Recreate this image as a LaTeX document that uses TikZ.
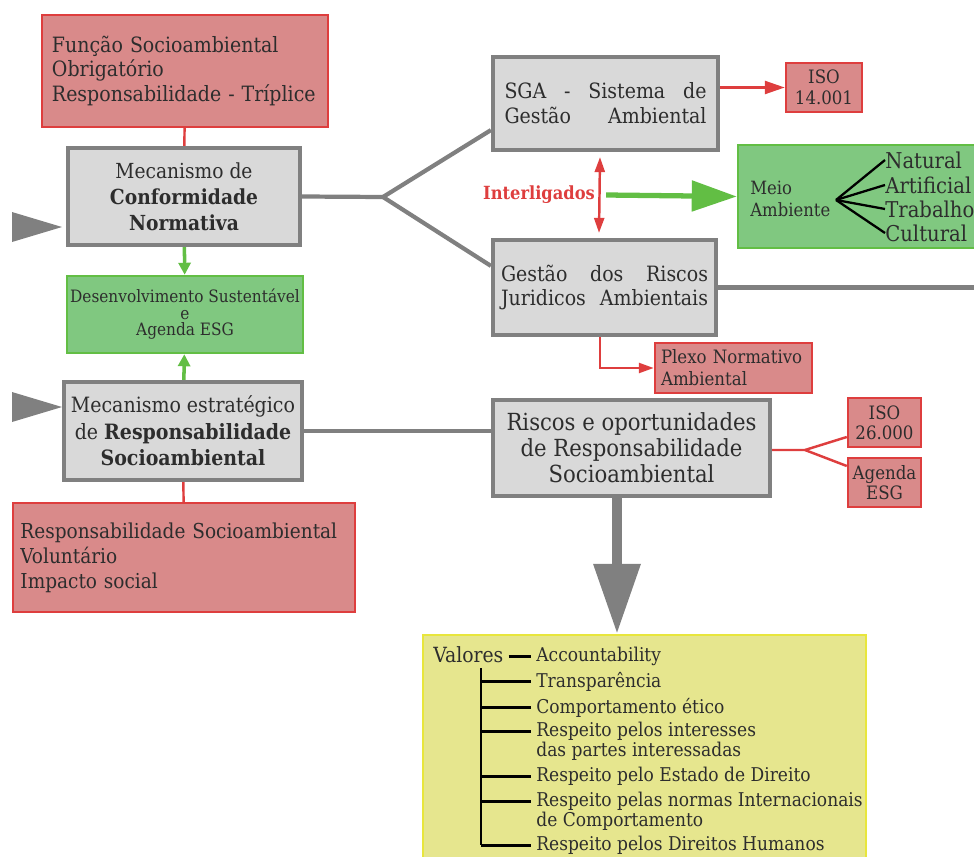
\documentclass[tikz,border=0pt]{standalone}
\usepackage{fontspec}
\setmainfont{DejaVu Serif Condensed}
\usetikzlibrary{arrows.meta}

\definecolor{redfill}{RGB}{217,138,138}
\definecolor{redline}{RGB}{222,62,62}
\definecolor{greyfill}{RGB}{217,217,217}
\definecolor{greyline}{RGB}{128,128,128}
\definecolor{greenfill}{RGB}{128,200,128}
\definecolor{greenline}{RGB}{98,190,68}
\definecolor{yellowfill}{RGB}{230,230,142}
\definecolor{yellowline}{RGB}{232,230,60}
\definecolor{ink}{RGB}{45,45,45}

\newcommand{\rowstrut}{\rule{0pt}{8pt}}

\tikzstyle{redbox}=[draw=redline, fill=redfill, line width=1.4pt, inner sep=0pt, text=ink]
\tikzstyle{greybox}=[draw=greyline, fill=greyfill, line width=2.4pt, inner sep=0pt, text=ink, align=center]
\tikzstyle{greenbox}=[draw=greenline, fill=greenfill, line width=1.4pt, inner sep=0pt, text=ink, align=center]
\tikzstyle{yellowbox}=[draw=yellowline, fill=yellowfill, line width=1.4pt]
\tikzstyle{redlink}=[draw=redline, line width=1.4pt]
\tikzstyle{redarrow}=[redlink, -{Triangle[length=4mm, width=2.6mm]}]
\tikzstyle{greylink}=[draw=greyline, line width=2.4pt]
\tikzstyle{greenarrow}=[draw=greenline, line width=2pt, -{Triangle[length=2.4mm, width=2.4mm]}]
\tikzstyle{branch}=[draw=black, line width=1.6pt]
\tikzstyle{item}=[anchor=north west, inner sep=0pt, align=left, text=ink,
  font=\fontsize{10.8}{11.2}\selectfont]

\begin{document}
\begin{tikzpicture}[x=0.2mm, y=-0.2mm]
\useasboundingbox (0,0) rectangle (974,857);
% left column
\draw (185,71) node[redbox, minimum width=57.2mm, minimum height=22.4mm, text width=53.2mm,
  align=left, font=\fontsize{12}{14.2}\selectfont](func)
  {Função Socioambiental\\Obrigatório\\Responsabilidade - Tríplice};
\draw (184,196.5) node[greybox, minimum width=46.4mm, minimum height=19.4mm,
  font=\fontsize{11.8}{14.8}\selectfont](conf)
  {Mecanismo de\\\textbf{Conformidade}\\\textbf{Normativa}};
\draw[redlink] (func) -- (conf);
%
\draw (185,314.5) node[greenbox, minimum width=47.2mm, minimum height=15.4mm,
  font=\fontsize{9.7}{9.4}\selectfont](desen)
  {Desenvolvimento Sustentável\\e\\Agenda ESG};
\draw (183,431) node[greybox, minimum width=47.6mm, minimum height=19.6mm,
  font=\fontsize{12}{15}\selectfont](estr)
  {Mecanismo estratégico\\de \textbf{Responsabilidade}\\\textbf{Socioambiental}};
\draw[greenarrow] (conf) -- (desen); \draw[greenarrow] (estr) -- (desen);
%
\draw (184,557.5) node[redbox, minimum width=68.4mm, minimum height=21.8mm, text width=65.4mm,
  align=left, font=\fontsize{11.7}{14.2}\selectfont](volun)
  {Responsabilidade Socioambiental\\Voluntário\\Impacto social};
\draw[redlink] (estr) -- (volun);
\fill[greyline] (12,212) -- (62,227) -- (12,242) -- cycle; % entry
\fill[greyline] (12,392) -- (62,407) -- (12,422) -- cycle;
%
% middle column
\coordinate (fork) at (383,197);
\draw (605.5,103.5) node[greybox, minimum width=45mm, minimum height=18.6mm, text width=40.4mm,
  align=left, font=\fontsize{12}{14.2}\selectfont](sga)
  {SGA\hfill-\hfill Sistema\hfill de\\Gestão\hfill Ambiental};
\draw (604.5,287.5) node[greybox, minimum width=44.6mm, minimum height=19mm, text width=41.4mm,
  align=left, font=\fontsize{12}{14.2}\selectfont](gest)
  {Gestão\hfill dos\hfill Riscos\\Juridicos\hfill Ambientais};
\draw[greylink] (conf.east) -- (fork);
\draw[greylink] (fork) -- ([yshift=4.4mm]sga.south west);
\draw[greylink] (fork) -- ([yshift=-5.6mm]gest.north west);
\draw[greylink] (gest.east) -- ++(60mm,0);
%
\draw (824,87.5) node[redbox, minimum width=15.2mm, minimum height=9.8mm, align=center,
  font=\fontsize{10.5}{12}\selectfont](iso14){ISO\\14.001};
\draw[redarrow] (sga.east |- iso14.west) -- (iso14.west);
%
\draw (539,195) node[text=redline, font=\bfseries\fontsize{10.3}{12}\selectfont](link){Interligados};
\draw[redlink, {Triangle[length=3mm, width=2mm]}-{Triangle[length=3mm, width=2mm]}]
  ([xshift=-1.1mm, yshift=-1mm]sga.south) -- ([xshift=-1.1mm, yshift=1mm]gest.north);
%
\draw (861.5,196.5) node[greenbox, minimum width=49.4mm, minimum height=20.6mm](meio){};
\draw[draw=greenline, line width=3pt, -{Triangle[length=9mm, width=6mm]}]
  ([xshift=1mm]link.east) -- (meio.west);
\draw (750,199) node[anchor=west, inner sep=0pt, align=left, text=ink,
  font=\fontsize{10.4}{12.4}\selectfont](amb){Meio\\Ambiente};
\coordinate (fan) at (836,200);
\draw (885,160) node[anchor=west, inner sep=0pt, text=ink, font=\fontsize{12.4}{13}\selectfont](nat){Natural};
\draw (885,185) node[anchor=west, inner sep=0pt, text=ink, font=\fontsize{12.4}{13}\selectfont](art){Artificial};
\draw (885,209) node[anchor=west, inner sep=0pt, text=ink, font=\fontsize{12.4}{13}\selectfont](trab){Trabalho};
\draw (885,233) node[anchor=west, inner sep=0pt, text=ink, font=\fontsize{12.4}{13}\selectfont](cult){Cultural};
\foreach \n in {nat,art,trab,cult} \draw[line width=1.3pt] (fan) -- (\n.west);
%
\draw (733.5,368) node[redbox, minimum width=31.4mm, minimum height=10mm, text width=29mm,
  align=left, font=\fontsize{10.5}{12.5}\selectfont](plexo){Plexo Normativo\\Ambiental};
\draw[redarrow, -{Triangle[length=3mm, width=2mm]}] ([xshift=-0.9mm]gest.south) |- (plexo.west);
%
\draw (631.5,448) node[greybox, minimum width=55.4mm, minimum height=19.2mm,
  font=\fontsize{13.4}{14.8}\selectfont](risc)
  {Riscos e oportunidades\\de Responsabilidade\\Socioambiental};
\draw[greylink] (estr.east) -- (estr.east -| risc.west);
%
\draw (884.5,422.5) node[redbox, minimum width=14.6mm, minimum height=9.8mm, align=center,
  font=\fontsize{10.5}{11.5}\selectfont](iso26){ISO\\26.000};
\draw (884.5,482.5) node[redbox, minimum width=14.6mm, minimum height=9.8mm, align=center,
  font=\fontsize{10.5}{11.5}\selectfont](esg){Agenda\\ESG};
\coordinate (fork2) at (805,450);
\draw[redlink] (risc.east |- fork2) -- (fork2) -- ([yshift=-2.9mm]iso26.west);
\draw[redlink] (fork2) -- ([yshift=3.3mm]esg.west);
%
% values
\draw (644.5,751) node[yellowbox, minimum width=88.6mm, minimum height=46.4mm](vbox){};
\draw[draw=greyline, line width=2mm, -{Triangle[length=14mm, width=9mm]}]
  ([xshift=-2.9mm]risc.south) -- ([xshift=-2.9mm]risc.south |- vbox.north);
\draw (433,662) node[inner sep=0pt, anchor=base west, text=ink,
  font=\fontsize{11.9}{12}\selectfont](val){Valores};
\draw (536,647) node[item](v1){\rowstrut Accountability};
\draw (536,672) node[item](v2){\rowstrut Transparência};
\draw (536,698) node[item](v3){\rowstrut Comportamento ético};
\draw (536,722) node[item](v4){\rowstrut Respeito pelos interesses\\das partes interessadas};
\draw (536,767) node[item](v5){\rowstrut Respeito pelo Estado de Direito};
\draw (536,792) node[item](v6){\rowstrut Respeito pelas normas Internacionais\\de Comportamento};
\draw (536,836) node[item](v7){\rowstrut Respeito pelos Direitos Humanos};
\coordinate (trunk) at (481,668);
\draw[branch] ([xshift=1mm, yshift=0.6ex]val.base east)
  -- ([xshift=-1mm, yshift=0.6ex]val.base east -| v1.west);
\draw[branch] (trunk) -- ([yshift=-1.84mm]v7.north west -| trunk);
\foreach \i in {2,...,7}
  \draw[branch] ([yshift=-1.84mm]v\i.north west -| trunk) -- ([xshift=-1mm, yshift=-1.84mm]v\i.north west);
\end{tikzpicture}
\end{document}
